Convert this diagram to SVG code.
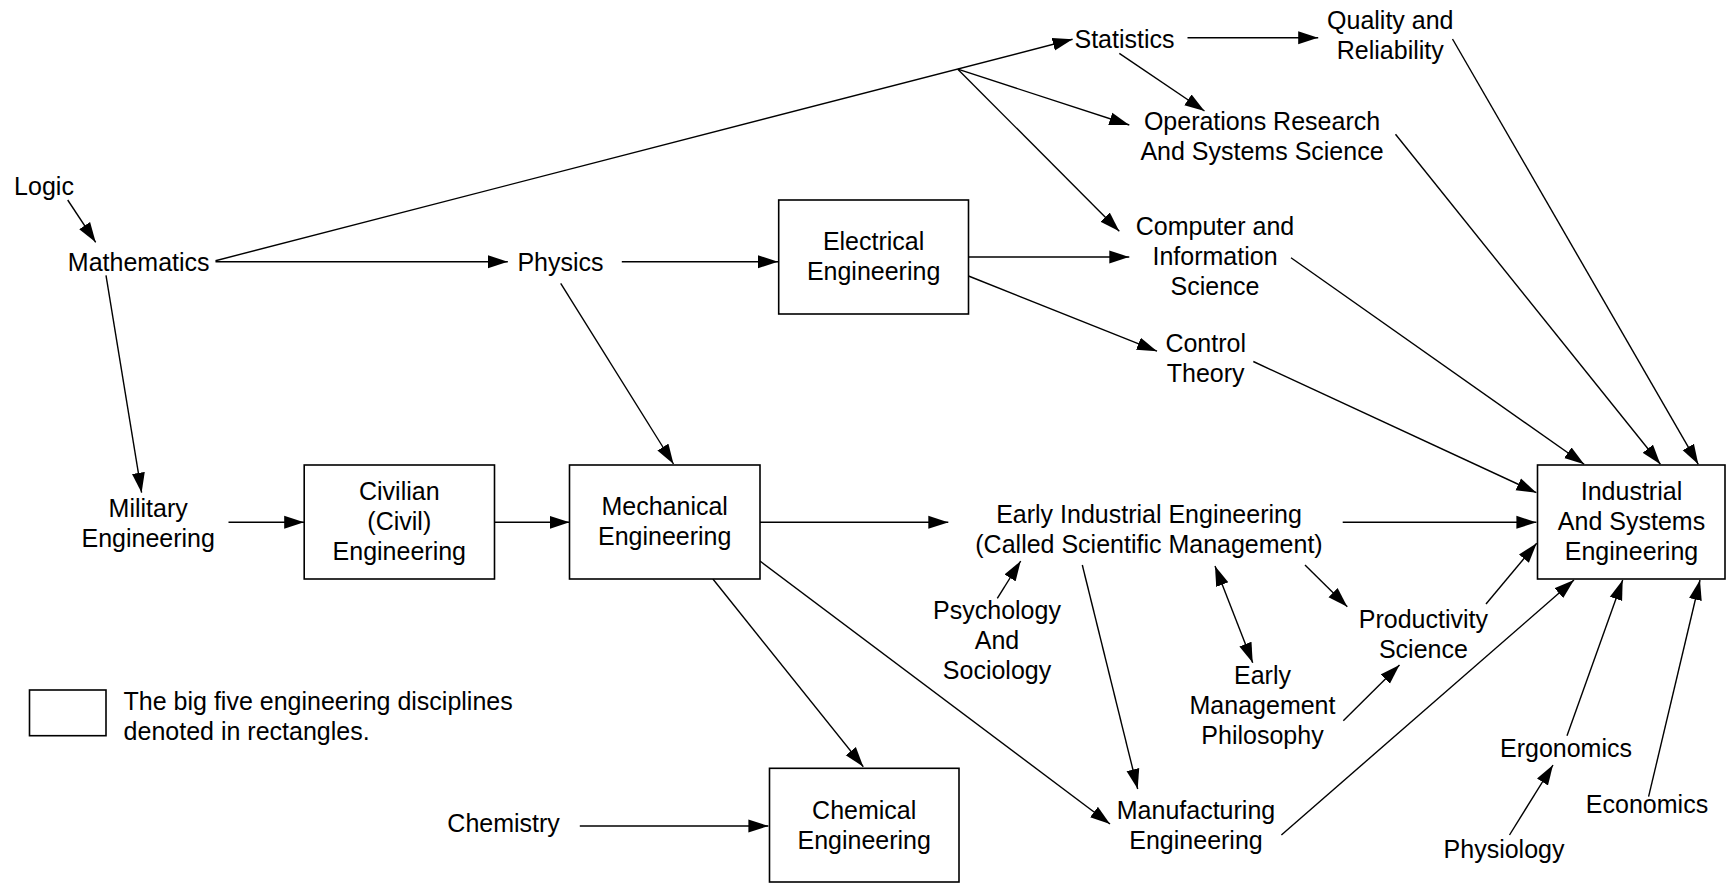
<svg xmlns="http://www.w3.org/2000/svg" width="1727" height="883" viewBox="0 0 1727 883">
<style>
text{font-family:"Liberation Sans",Arial,Helvetica,sans-serif;font-size:25px;fill:#000;text-anchor:middle}
.box{fill:#fff;stroke:#000;stroke-width:1.6}
.c line{stroke:#000;stroke-width:1.4;fill:none;marker-end:url(#ah)}
.c line.nm{marker-end:none}
.c line.dbl{marker-start:url(#ahs)}
.l{text-anchor:start}
</style>
<defs>
<marker id="ah" markerUnits="userSpaceOnUse" markerWidth="20" markerHeight="14" refX="20" refY="7" orient="auto">
<path d="M0,0.5 L20,7 L0,13.5 z" fill="#000"/>
</marker>
<marker id="ahs" markerUnits="userSpaceOnUse" markerWidth="20" markerHeight="14" refX="20" refY="7" orient="auto-start-reverse">
<path d="M0,0.5 L20,7 L0,13.5 z" fill="#000"/>
</marker>
</defs>
<rect width="1727" height="883" fill="#fff"/>

<g id="connectors" class="c">
<line x1="67.7" y1="200" x2="95.7" y2="242.3"/>
<line x1="215.5" y1="260.7" x2="1072.6" y2="39.3"/>
<line x1="957.8" y1="69.2" x2="1129.3" y2="125"/>
<line x1="957.8" y1="69.2" x2="1119.3" y2="231.3"/>
<line x1="215.5" y1="261.7" x2="507.8" y2="261.7"/>
<line x1="106" y1="275.3" x2="141.6" y2="492.7"/>
<line x1="621.8" y1="261.7" x2="778" y2="261.7"/>
<line x1="560.7" y1="283.3" x2="673.5" y2="464"/>
<line x1="968.5" y1="257" x2="1129.3" y2="257"/>
<line x1="968.5" y1="276" x2="1157" y2="351.2"/>
<line x1="1187.5" y1="37.7" x2="1318.2" y2="37.7"/>
<line x1="1119.3" y1="53.3" x2="1204.5" y2="111"/>
<line x1="1452.5" y1="39" x2="1698.3" y2="464.3"/>
<line x1="1395.5" y1="134.3" x2="1660.4" y2="464.3"/>
<line x1="1291" y1="257.7" x2="1584.2" y2="464.3"/>
<line x1="1253.3" y1="361.5" x2="1536.4" y2="492.7"/>
<line x1="228.5" y1="522.3" x2="304.2" y2="522.3"/>
<line x1="494.5" y1="522.3" x2="569.5" y2="522.3"/>
<line x1="760" y1="522.3" x2="948.3" y2="522.3"/>
<line x1="1342.7" y1="522.3" x2="1536.4" y2="522.3"/>
<line x1="997.3" y1="598.3" x2="1020.7" y2="561"/>
<line x1="1082.3" y1="565" x2="1137.7" y2="789"/>
<line class="dbl" x1="1215" y1="566" x2="1252.7" y2="662.7"/>
<line x1="1305" y1="565" x2="1347.3" y2="606.7"/>
<line x1="1343.3" y1="720.7" x2="1399.5" y2="665"/>
<line x1="1486" y1="604" x2="1536.7" y2="543.3"/>
<line x1="1281.4" y1="835" x2="1574" y2="580"/>
<line x1="1567" y1="735.7" x2="1622.7" y2="580"/>
<line x1="1648.6" y1="796.7" x2="1700" y2="580"/>
<line x1="1509.5" y1="835" x2="1553" y2="765"/>
<line x1="712.9" y1="579" x2="863.3" y2="766.7"/>
<line x1="760" y1="561" x2="1110" y2="824"/>
<line x1="579.8" y1="826" x2="768.4" y2="826"/>
</g>

<g id="logic"><text x="44" y="195">Logic</text></g>
<g id="mathematics"><text x="138.7" y="271">Mathematics</text></g>
<g id="physics"><text x="560.5" y="271">Physics</text></g>
<g id="statistics"><text x="1124.5" y="48">Statistics</text></g>
<g id="quality"><text x="1390.3" y="29">Quality and</text><text x="1390.3" y="59">Reliability</text></g>
<g id="operations-research"><text x="1262" y="130">Operations Research</text><text x="1262" y="160">And Systems Science</text></g>
<g id="computer-science"><text x="1215" y="235">Computer and</text><text x="1215" y="265">Information</text><text x="1215" y="295">Science</text></g>
<g id="control-theory"><text x="1205.7" y="352">Control</text><text x="1205.7" y="382">Theory</text></g>
<g id="electrical-engineering"><rect class="box" x="778.7" y="200" width="189.8" height="114"/><text x="873.6" y="250">Electrical</text><text x="873.6" y="280">Engineering</text></g>
<g id="military-engineering"><text x="148.2" y="517">Military</text><text x="148.2" y="547">Engineering</text></g>
<g id="civil-engineering"><rect class="box" x="304.2" y="465" width="190.3" height="114"/><text x="399.3" y="500">Civilian</text><text x="399.3" y="530">(Civil)</text><text x="399.3" y="560">Engineering</text></g>
<g id="mechanical-engineering"><rect class="box" x="569.5" y="465" width="190.5" height="114"/><text x="664.7" y="515">Mechanical</text><text x="664.7" y="545">Engineering</text></g>
<g id="early-ie"><text x="1149" y="523">Early Industrial Engineering</text><text x="1149" y="553">(Called Scientific Management)</text></g>
<g id="industrial-systems-engineering"><rect class="box" x="1537.5" y="465" width="187.5" height="114"/><text x="1631.5" y="500">Industrial</text><text x="1631.5" y="530">And Systems</text><text x="1631.5" y="560">Engineering</text></g>
<g id="psychology"><text x="997" y="619">Psychology</text><text x="997" y="649">And</text><text x="997" y="679">Sociology</text></g>
<g id="early-management"><text x="1262.5" y="684">Early</text><text x="1262.5" y="714">Management</text><text x="1262.5" y="744">Philosophy</text></g>
<g id="productivity"><text x="1423.4" y="628">Productivity</text><text x="1423.4" y="658">Science</text></g>
<g id="manufacturing"><text x="1196" y="819">Manufacturing</text><text x="1196" y="849">Engineering</text></g>
<g id="ergonomics"><text x="1566" y="757">Ergonomics</text></g>
<g id="economics"><text x="1647" y="813">Economics</text></g>
<g id="physiology"><text x="1504" y="858">Physiology</text></g>
<g id="chemical-engineering"><rect class="box" x="769.5" y="768.3" width="189.5" height="113.7"/><text x="864.2" y="819">Chemical</text><text x="864.2" y="849">Engineering</text></g>
<g id="chemistry"><text x="503.6" y="832">Chemistry</text></g>
<g id="legend"><rect class="box" x="29.5" y="690" width="76.5" height="45.7"/><text class="l" x="123.6" y="710">The big five engineering disciplines</text><text class="l" x="123.6" y="740">denoted in rectangles.</text></g>
</svg>
